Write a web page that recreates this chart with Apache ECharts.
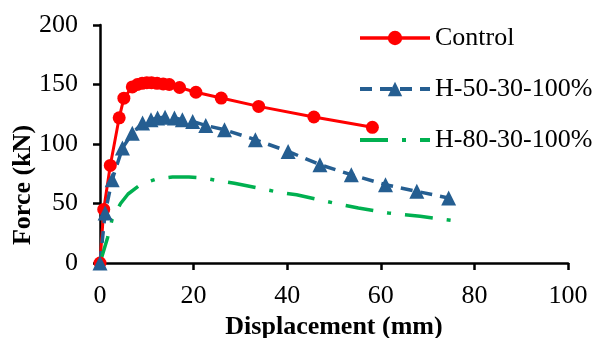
<!DOCTYPE html>
<html>
<head>
    <meta charset="utf-8">
    <title>Force - Displacement</title>
    <script type="text/javascript" src="https://cdn.jsdelivr.net/npm/echarts@6/dist/echarts.min.js"></script>
    <style>
        html, body { margin: 0; padding: 0; background: #fff; }
    </style>
</head>
<body>
<div id="main" style="width: 593px;height:338px;"></div>
<script type="text/javascript">
    // 数据：位移 (mm) / 荷载 (kN)
    var seriesNames = ['Control', 'H-50-30-100%', 'H-80-30-100%'];

    var controlDisp  = [0, 0.8, 2.2, 4.1, 5.1, 6.9, 8.0, 9.0, 10.0, 11.0, 12.2, 13.5, 14.8, 17.0, 20.5, 25.9, 33.9, 45.7, 58.2];
    var controlForce = [0, 45, 82, 122, 138.5, 148, 150, 151, 151.5, 151.5, 151, 150.5, 150, 147.5, 143.5, 138.6, 131.6, 122.7, 114];

    var h50Disp  = [0, 1.1, 2.6, 4.8, 6.9, 9.1, 10.9, 12.3, 13.9, 15.9, 17.6, 19.8, 22.6, 26.6, 33.2, 40.2, 47.0, 53.7, 61.0, 67.7, 74.5];
    var h50Force = [0, 42, 70, 96.6, 109, 117.6, 120.4, 121.8, 122.5, 121.8, 120.4, 119, 115.5, 112, 103.6, 93.8, 82.6, 74.2, 65.8, 60.2, 54.6];

    var h80Disp  = [0, 1.6, 2.6, 4.4, 6.0, 8.7, 12.0, 15.5, 19.0, 22.0, 25.5, 28.7, 35.0, 38.4, 42.0, 48.4, 51.6, 55.2, 61.6, 64.8, 68.4, 75.0];
    var h80Force = [0, 21, 37, 50, 58, 66, 70.5, 72.3, 72.3, 71.4, 69, 67, 62, 59.3, 57.4, 51.8, 49, 46.2, 42, 40.6, 39.2, 35.8];

    var xTicks = [0, 20, 40, 60, 80, 100];
    var yTicks = [0, 50, 100, 150, 200];

    function pairs(xs, ys) {
        var out = [];
        for (let i in xs) {
            out.push([xs[i], ys[i]]);
        }
        return out;
    }

    var fontName = 'Liberation Serif';
    var myChart = echarts.init(document.getElementById('main'));
    var option = {
        animation: false,
        textStyle: { fontFamily: fontName },
        grid: { left: 100, right: 25, top: 25, bottom: 75, containLabel: false, outerBoundsMode: 'none' },
        legend: {
            orient: 'vertical',
            left: 358,
            top: 25,
            padding: 0,
            itemWidth: 70,
            itemHeight: 18,
            itemGap: 25,
            textStyle: { fontFamily: fontName, fontSize: 26, color: '#000', lineHeight: 26 },
            data: [
                { name: seriesNames[0], lineStyle: { width: 3.5 } },
                { name: seriesNames[1], lineStyle: { width: 4 } },
                // 这条线没有标记点
                { name: seriesNames[2], itemStyle: { opacity: 0 }, lineStyle: { width: 4 } }
            ]
        },
        xAxis: {
            type: 'value',
            min: xTicks[0],
            max: xTicks[xTicks.length - 1],
            interval: 20,
            name: 'Displacement (mm)',
            nameLocation: 'middle',
            nameGap: 50,
            nameTextStyle: { fontFamily: fontName, fontSize: 26, fontWeight: 'bold', color: '#000' },
            axisLine: { lineStyle: { color: '#000', width: 2.5 } },
            axisTick: { length: 7, lineStyle: { color: '#000', width: 2.5 } },
            axisLabel: { fontFamily: fontName, fontSize: 26, color: '#000', margin: 20 },
            splitLine: { show: false }
        },
        yAxis: {
            type: 'value',
            min: yTicks[0],
            max: yTicks[yTicks.length - 1],
            interval: 50,
            name: 'Force (kN)',
            nameLocation: 'middle',
            nameGap: 64,
            nameMoveOverlap: false,
            nameTextStyle: { fontFamily: fontName, fontSize: 26, fontWeight: 'bold', color: '#000', padding: [0, 82, 0, 0] },
            axisLine: { lineStyle: { color: '#000', width: 2.5 } },
            axisTick: { length: 7, lineStyle: { color: '#000', width: 2.5 } },
            axisLabel: { fontFamily: fontName, fontSize: 26, color: '#000', margin: 22 },
            splitLine: { show: false }
        },
        series: [{
            name: seriesNames[0],
            type: 'line',
            data: pairs(controlDisp, controlForce),
            symbol: 'circle',
            symbolSize: 13,
            itemStyle: { color: '#FF0000' },
            lineStyle: { color: '#FF0000', width: 3 }
        }, {
            name: seriesNames[1],
            type: 'line',
            data: pairs(h50Disp, h50Force),
            symbol: 'triangle',
            symbolSize: 15,
            itemStyle: { color: '#255E91' },
            lineStyle: { color: '#255E91', width: 3.5, type: [12, 8] }
        }, {
            name: seriesNames[2],
            type: 'line',
            data: pairs(h80Disp, h80Force),
            symbol: 'none',
            itemStyle: { color: '#00B050' },
            lineStyle: { color: '#00B050', width: 3.5, type: [28, 14, 4, 14] }
        }]
    };
    myChart.setOption(option);
</script>
</body>
</html>
